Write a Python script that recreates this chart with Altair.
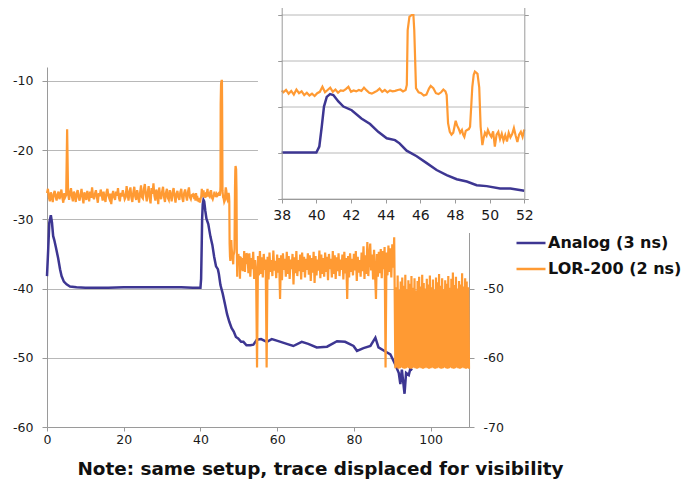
import altair as alt
import pandas as pd

SERIES = ["Analog (3 ns)", "LOR-200 (2 ns)"]
COLORS = ["#3d3692", "#ff9a33"]

# ---- Analog trace (left axis units) ----
blue_t = [0, 0.3, 0.6, 1.0, 1.3, 1.6, 1.9, 2.3, 2.9, 3.4, 3.8, 4.4, 5.1, 6.0, 7.7, 10, 13, 16, 20, 25,
          30, 35, 38, 40.0, 40.17, 40.31, 40.44, 40.6, 40.79, 40.98, 41.27, 41.56, 42.04, 42.6, 43.1,
          43.57, 44.06, 44.54, 44.8, 45.21, 45.79, 46.37, 46.94, 47.52, 48.1, 48.68, 49.25, 49.83,
          50.6, 51.2, 52.0, 53.0, 53.8, 54.7, 55.8, 57.3, 58.6, 60.3, 62.5, 64.2, 66.4, 68.1, 70.3,
          73.0, 75.6, 77.7, 79.9, 80.8, 82.5, 84.3, 85.6, 86.4, 88.2, 89.5, 90.8, 91.7, 92.1, 92.5,
          93.2, 93.6, 94.3, 94.7, 95.2]
blue_v = [-38.2, -34.5, -30.5, -29.4, -30.5, -32.4, -33.0, -34.0, -35.6, -37.2, -38.2, -39.0, -39.4,
          -39.7, -39.8, -39.9, -39.9, -39.9, -39.8, -39.8, -39.8, -39.8, -39.9, -39.9, -38.6, -34.3,
          -29.9, -27.8, -27.2, -27.4, -28.8, -29.9, -30.7, -32.5, -33.7, -35.4, -36.8, -37.2, -37.9,
          -39.5, -40.7, -42.2, -43.7, -44.8, -45.7, -46.2, -47.0, -47.2, -47.7, -47.7, -48.2, -48.2,
          -48.1, -47.4, -47.3, -47.7, -47.3, -47.6, -48.0, -48.3, -47.7, -48.0, -48.5, -48.4, -47.6,
          -47.7, -48.3, -49.0, -48.6, -48.3, -47.1, -48.5, -49.1, -49.5, -51.0, -52.2, -53.8, -51.7,
          -55.2, -52.2, -52.5, -51.6, -51.8]

# ---- LOR-200 trace (right axis units) ----
# segment 1: t = 0 .. 38, every 0.25 ns
o1_start, o1_step = 0.0, 0.25
o1_v = [-36.2, -35.6, -36.9, -37.4, -36.1, -36.8, -37.5, -36.3, -35.9, -36.7,
        -37.3, -36.4, -36.0, -37.1, -36.6, -35.7, -36.9, -37.6, -36.2, -36.8,
        -36.5, -27.0, -36.3, -37.2, -36.1, -35.5, -36.7, -37.4, -36.0, -36.6,
        -37.5, -36.2, -35.8, -36.9, -37.3, -36.4, -35.6, -36.8, -37.7, -36.1,
        -36.6, -37.2, -35.9, -36.5, -37.4, -36.0, -36.9, -35.4, -36.7, -37.1,
        -36.3, -35.8, -36.8, -37.6, -36.2, -36.7, -35.7, -36.4, -37.3, -36.0,
        -36.9, -37.5, -36.1, -35.6, -36.6, -37.0, -36.3, -37.8, -36.5, -35.9,
        -36.8, -37.2, -36.0, -36.6, -35.5, -36.9, -37.4, -36.2, -36.7, -35.8,
        -36.4, -37.1, -36.8, -35.2, -36.3, -37.3, -36.0, -35.4, -36.9, -37.5,
        -36.1, -35.3, -36.7, -37.2, -35.8, -36.5, -37.6, -36.2, -35.1, -36.8,
        -37.0, -35.6, -34.9, -36.4, -37.4, -36.1, -35.2, -36.9, -37.7, -35.5,
        -36.3, -34.8, -36.6, -37.3, -35.7, -36.2, -37.8, -35.4, -36.7, -37.1,
        -36.0, -35.3, -36.8, -37.5, -36.2, -35.6, -36.9, -37.2, -35.8, -36.5,
        -37.4, -36.0, -35.5, -36.7, -37.6, -36.3, -35.9, -36.8, -37.2, -36.1,
        -35.6, -36.9, -37.5, -36.2, -35.7, -36.6, -37.3, -36.0, -35.4, -36.8,
        -37.1, -36.5, -36.4]
# segment 2: detail, 38.1 .. 52
o2_t = [38.1, 38.25, 38.4, 38.55, 38.7, 38.85, 39.0, 39.15, 39.3, 39.45, 39.6, 39.75, 39.9, 40.05,
        40.2, 40.35, 40.5, 40.65, 40.8, 40.95, 41.1, 41.25, 41.4, 41.55, 41.7, 41.85, 42.0, 42.15,
        42.3, 42.45, 42.6, 42.75, 42.9, 43.05, 43.2, 43.35, 43.5, 43.65, 43.8, 43.95, 44.1, 44.25,
        44.4, 44.55, 44.7, 44.85, 45.0, 45.15, 45.22, 45.27, 45.37, 45.5, 45.6, 45.65, 45.75, 45.9,
        46.05, 46.2, 46.35, 46.5, 46.6, 46.75, 46.9, 47.05, 47.2, 47.33, 47.45, 47.52, 47.6, 47.7,
        47.8, 47.9, 48.04, 48.12, 48.2, 48.3, 48.4, 48.47, 48.54, 48.62, 48.7, 48.8, 48.87, 48.95,
        49.0, 49.08, 49.15, 49.22, 49.3, 49.4, 49.48, 49.58, 49.65, 49.73, 49.82, 49.9, 50.0, 50.1,
        50.2, 50.3, 50.4, 50.5, 50.6, 50.7, 50.8, 50.9, 51.0, 51.1, 51.2, 51.3, 51.4, 51.5, 51.6,
        51.7, 51.8, 51.9, 52.0]
o2_v = [-36.8, -36.3, -37.1, -36.5, -37.3, -36.2, -37.0, -36.6, -37.4, -36.9, -37.5, -37.1, -37.6,
        -37.0, -36.7, -35.6, -36.8, -36.3, -35.8, -36.7, -36.2, -36.9, -36.4, -36.5, -36.1, -35.6,
        -36.7, -36.4, -36.6, -36.3, -36.5, -35.8, -36.4, -36.9, -37.1, -36.8, -36.5, -36.0, -36.7,
        -36.3, -36.8, -36.4, -36.6, -36.5, -36.3, -36.2, -36.6, -36.3, -35.2, -23.3, -20.4, -20.0,
        -20.0, -23.3, -35.9, -36.8, -37.0, -37.5, -37.3, -36.0, -35.4, -35.9, -37.0, -37.2, -36.8,
        -36.2, -36.6, -37.4, -43.5, -45.4, -46.0, -45.6, -43.0, -44.0, -44.6, -45.6, -45.0, -46.0,
        -46.5, -45.2, -45.0, -44.8, -44.3, -39.0, -35.6, -33.0, -32.3, -32.5, -32.8, -35.8, -44.3,
        -48.3, -46.8, -45.6, -46.2, -45.0, -45.9, -46.5, -45.3, -48.6, -46.0, -45.4, -47.0, -45.8,
        -47.3, -46.1, -47.5, -45.6, -46.6, -45.9, -44.6, -46.2, -47.6, -46.0, -45.4, -46.5, -44.9]
# segment 3: t = 52.25 .. 90.5, every 0.25 ns
o3_start, o3_step = 52.25, 0.25
o3_v = [-45.2, -47.8, -44.9, -48.3, -45.6, -47.2, -44.7, -48.6, -45.9, -47.5,
        -61.4, -45.3, -48.1, -44.6, -47.9, -45.5, -48.4, -45.0, -47.3, -45.8,
        -61.4, -45.4, -48.7, -44.8, -47.6, -45.9, -48.2, -44.5, -47.4, -46.0,
        -48.5, -45.1, -47.7, -45.6, -51.5, -45.2, -48.8, -44.9, -47.3, -45.7,
        -48.3, -44.7, -47.9, -45.3, -48.6, -45.8, -47.2, -45.0, -49.4, -45.5,
        -47.8, -44.6, -48.2, -45.9, -47.5, -45.1, -48.7, -44.8, -47.6, -45.4,
        -48.4, -45.7, -47.3, -44.9, -48.0, -45.2, -48.9, -45.6, -47.7, -44.7,
        -49.2, -45.3, -48.1, -45.8, -47.4, -44.5, -48.5, -45.1, -47.9, -45.6,
        -48.3, -44.8, -47.6, -45.4, -48.8, -45.0, -47.2, -45.7, -48.4, -44.6,
        -47.9, -45.2, -48.6, -45.5, -47.5, -44.9, -48.2, -45.8, -47.3, -45.1,
        -48.7, -44.7, -47.8, -45.6, -51.5, -45.3, -48.4, -44.9, -47.6, -45.7,
        -48.1, -45.0, -47.4, -44.6, -48.9, -45.4, -47.7, -45.9, -48.3, -44.8,
        -47.5, -43.9, -48.6, -45.2, -47.9, -43.3, -48.2, -45.5, -43.5, -47.4,
        -45.1, -48.7, -44.4, -47.6, -51.5, -45.0, -48.3, -44.7, -47.8, -44.3,
        -48.5, -44.6, -47.2, -44.0, -61.4, -44.8, -48.1, -43.8, -47.6, -44.2,
        -48.4, -43.6, -47.0, -42.6]
# segment 4: t = 90.6 .. 110, every 0.2 ns (fast oscillation)
o4_start, o4_step = 90.6, 0.2
o4_v = [-48.6, -61.5, -49.8, -61.4, -48.1, -61.6, -50.2, -61.5, -49.0, -61.4,
        -48.4, -61.5, -49.6, -61.6, -48.0, -61.5, -50.1, -61.4, -48.8, -61.5,
        -49.3, -61.6, -48.2, -61.5, -49.9, -61.4, -48.5, -61.5, -50.3, -61.6,
        -48.9, -61.5, -48.3, -61.4, -49.7, -61.5, -48.0, -61.6, -49.2, -61.5,
        -50.0, -61.4, -48.6, -61.5, -49.4, -61.6, -48.1, -61.5, -49.8, -61.4,
        -48.7, -61.5, -50.2, -61.6, -48.4, -61.5, -49.1, -61.4, -47.9, -61.5,
        -49.6, -61.6, -48.5, -61.5, -50.1, -61.4, -48.8, -61.5, -49.3, -61.6,
        -48.2, -61.5, -49.9, -61.4, -48.6, -61.5, -47.7, -61.6, -49.5, -61.5,
        -48.3, -61.4, -50.0, -61.5, -48.9, -61.6, -49.4, -61.5, -47.8, -61.4,
        -49.7, -61.5, -48.5, -61.6, -49.0, -61.5, -49.8, -61.6]

left_ticks = [-60, -50, -40, -30, -20, -10]
right_ticks = [-70, -60, -50]
x_ticks = [0, 20, 40, 60, 80, 100]
inset_x_ticks = [38, 40, 42, 44, 46, 48, 50, 52]
inset_grid = [-50, -40, -30, -20, -10]
inset_right_ticks = [-60, -50, -40, -30, -20]
TITLE = "Note: same setup, trace displaced for visibility"

# ---- build tables ----
o_t = [o1_start + i * o1_step for i in range(len(o1_v))] + o2_t + \
      [o3_start + i * o3_step for i in range(len(o3_v))] + \
      [round(o4_start + i * o4_step, 2) for i in range(len(o4_v))]
o_v = o1_v + o2_v + o3_v + o4_v
blue_df = pd.DataFrame({"t": blue_t, "v": blue_v, "series": SERIES[0]})
orange_df = pd.DataFrame({"t": o_t, "v": o_v, "series": SERIES[1]})
blue_in = blue_df[(blue_df.t >= 38) & (blue_df.t <= 52)]
orange_in = orange_df[(orange_df.t >= 38) & (orange_df.t <= 52)]
grid_df = pd.DataFrame({"g": inset_grid, "a": 38, "b": 52})
bg_df = pd.DataFrame({"a": [36.63], "b": [54.1], "lo": [-57.4], "hi": [-6.7]})

W, H = 422, 360
FONT = "DejaVu Sans"
AX = "#9a9a9a"
GRID = "#b8b8b8"
HYPHEN = "'' + datum.value"

color = alt.Color("series:N",
                  scale=alt.Scale(domain=SERIES, range=COLORS),
                  legend=alt.Legend(orient="none", legendX=468, legendY=160, title=None,
                                    labelFontSize=16, labelFontWeight="bold", labelFont=FONT,
                                    labelColor="#111111", symbolType="stroke", symbolSize=841,
                                    symbolStrokeWidth=2.5, labelOffset=1, rowPadding=2,
                                    padding=0, labelLimit=300))

main_x = alt.Scale(domain=[0, 110], nice=False, zero=False)
inset_x = alt.Scale(domain=[38, 52], range=[234.7, 477.3], nice=False, zero=False)
inset_yl = alt.Scale(domain=[-50, -8], range=[132, -61.2], nice=False, zero=False)
inset_yr = alt.Scale(domain=[-60, -18], range=[132, -61.2], nice=False, zero=False)

main_blue = alt.Chart(blue_df).mark_line(strokeWidth=2.5).encode(
    x=alt.X("t:Q", scale=main_x,
            axis=alt.Axis(values=x_ticks, grid=False, tickSize=4, labelPadding=2,
                          labelFlush=False, labelOverlap=False, title=TITLE,
                          titleX=273, titleY=47, titleAlign="center",
                          titleBaseline="alphabetic", titleFontSize=18.4,
                          titleFontWeight="bold", titleFont=FONT, titleColor="#111111")),
    y=alt.Y("v:Q", scale=alt.Scale(domain=[-60, -8], nice=False, zero=False),
            axis=alt.Axis(values=left_ticks, grid=True, orient="left", tickSize=5,
                          labelPadding=9, title=None, labelExpr=HYPHEN)),
    color=color,
)

main_orange = alt.Chart(orange_df).mark_line(strokeWidth=2.2).encode(
    x=alt.X("t:Q", scale=main_x, axis=None),
    y=alt.Y("v:Q", scale=alt.Scale(domain=[-70, -18], nice=False, zero=False),
            axis=alt.Axis(values=right_ticks, grid=False, orient="right", tickSize=5,
                          labelPadding=9, title=None, labelExpr=HYPHEN)),
    color=color,
)

bg = alt.Chart(bg_df).mark_rect(color="white").encode(
    x=alt.X("a:Q", scale=inset_x, axis=None),
    x2="b:Q",
    y=alt.Y("lo:Q", scale=inset_yl, axis=None),
    y2="hi:Q",
)

inset_gridlines = alt.Chart(grid_df).mark_rule(color=GRID, strokeWidth=1).encode(
    x=alt.X("a:Q", scale=inset_x,
            axis=alt.Axis(values=inset_x_ticks, orient="bottom", offset=-228, grid=False,
                          tickSize=4, labelPadding=5, labelFontSize=14, labelFlush=False,
                          labelOverlap=False, title=None, zindex=1)),
    x2="b:Q",
    y=alt.Y("g:Q", scale=inset_yl,
            axis=alt.Axis(values=inset_grid, orient="left", offset=-234.7, grid=False,
                          labels=False, tickSize=4, title=None, zindex=1)),
)

inset_blue = alt.Chart(blue_in).mark_line(strokeWidth=2.5).encode(
    x=alt.X("t:Q", scale=inset_x, axis=None),
    y=alt.Y("v:Q", scale=inset_yl, axis=None),
    color=color,
)

inset_orange = alt.Chart(orange_in).mark_line(strokeWidth=2.2).encode(
    x=alt.X("t:Q", scale=inset_x, axis=None),
    y=alt.Y("v:Q", scale=inset_yr,
            axis=alt.Axis(values=inset_right_ticks, orient="right", offset=55.3, grid=False,
                          labels=False, tickSize=4, title=None, zindex=1)),
    color=color,
)

chart = alt.layer(
    main_blue, main_orange, bg, inset_gridlines, inset_blue, inset_orange
).resolve_scale(
    x="independent", y="independent"
).properties(
    width=W, height=H,
    autosize=alt.AutoSizeParams(type="none"),
    padding={"left": 39, "top": 59, "right": 212, "bottom": 53},
).configure_view(
    stroke=None
).configure_axis(
    labelFont=FONT, labelFontSize=12.5, labelColor="#1a1a1a",
    domainColor=AX, tickColor=AX, gridColor=GRID, domainWidth=1, tickWidth=1, gridWidth=1,
)

chart.save("out.html", embed_options={"renderer": "svg", "actions": False})
